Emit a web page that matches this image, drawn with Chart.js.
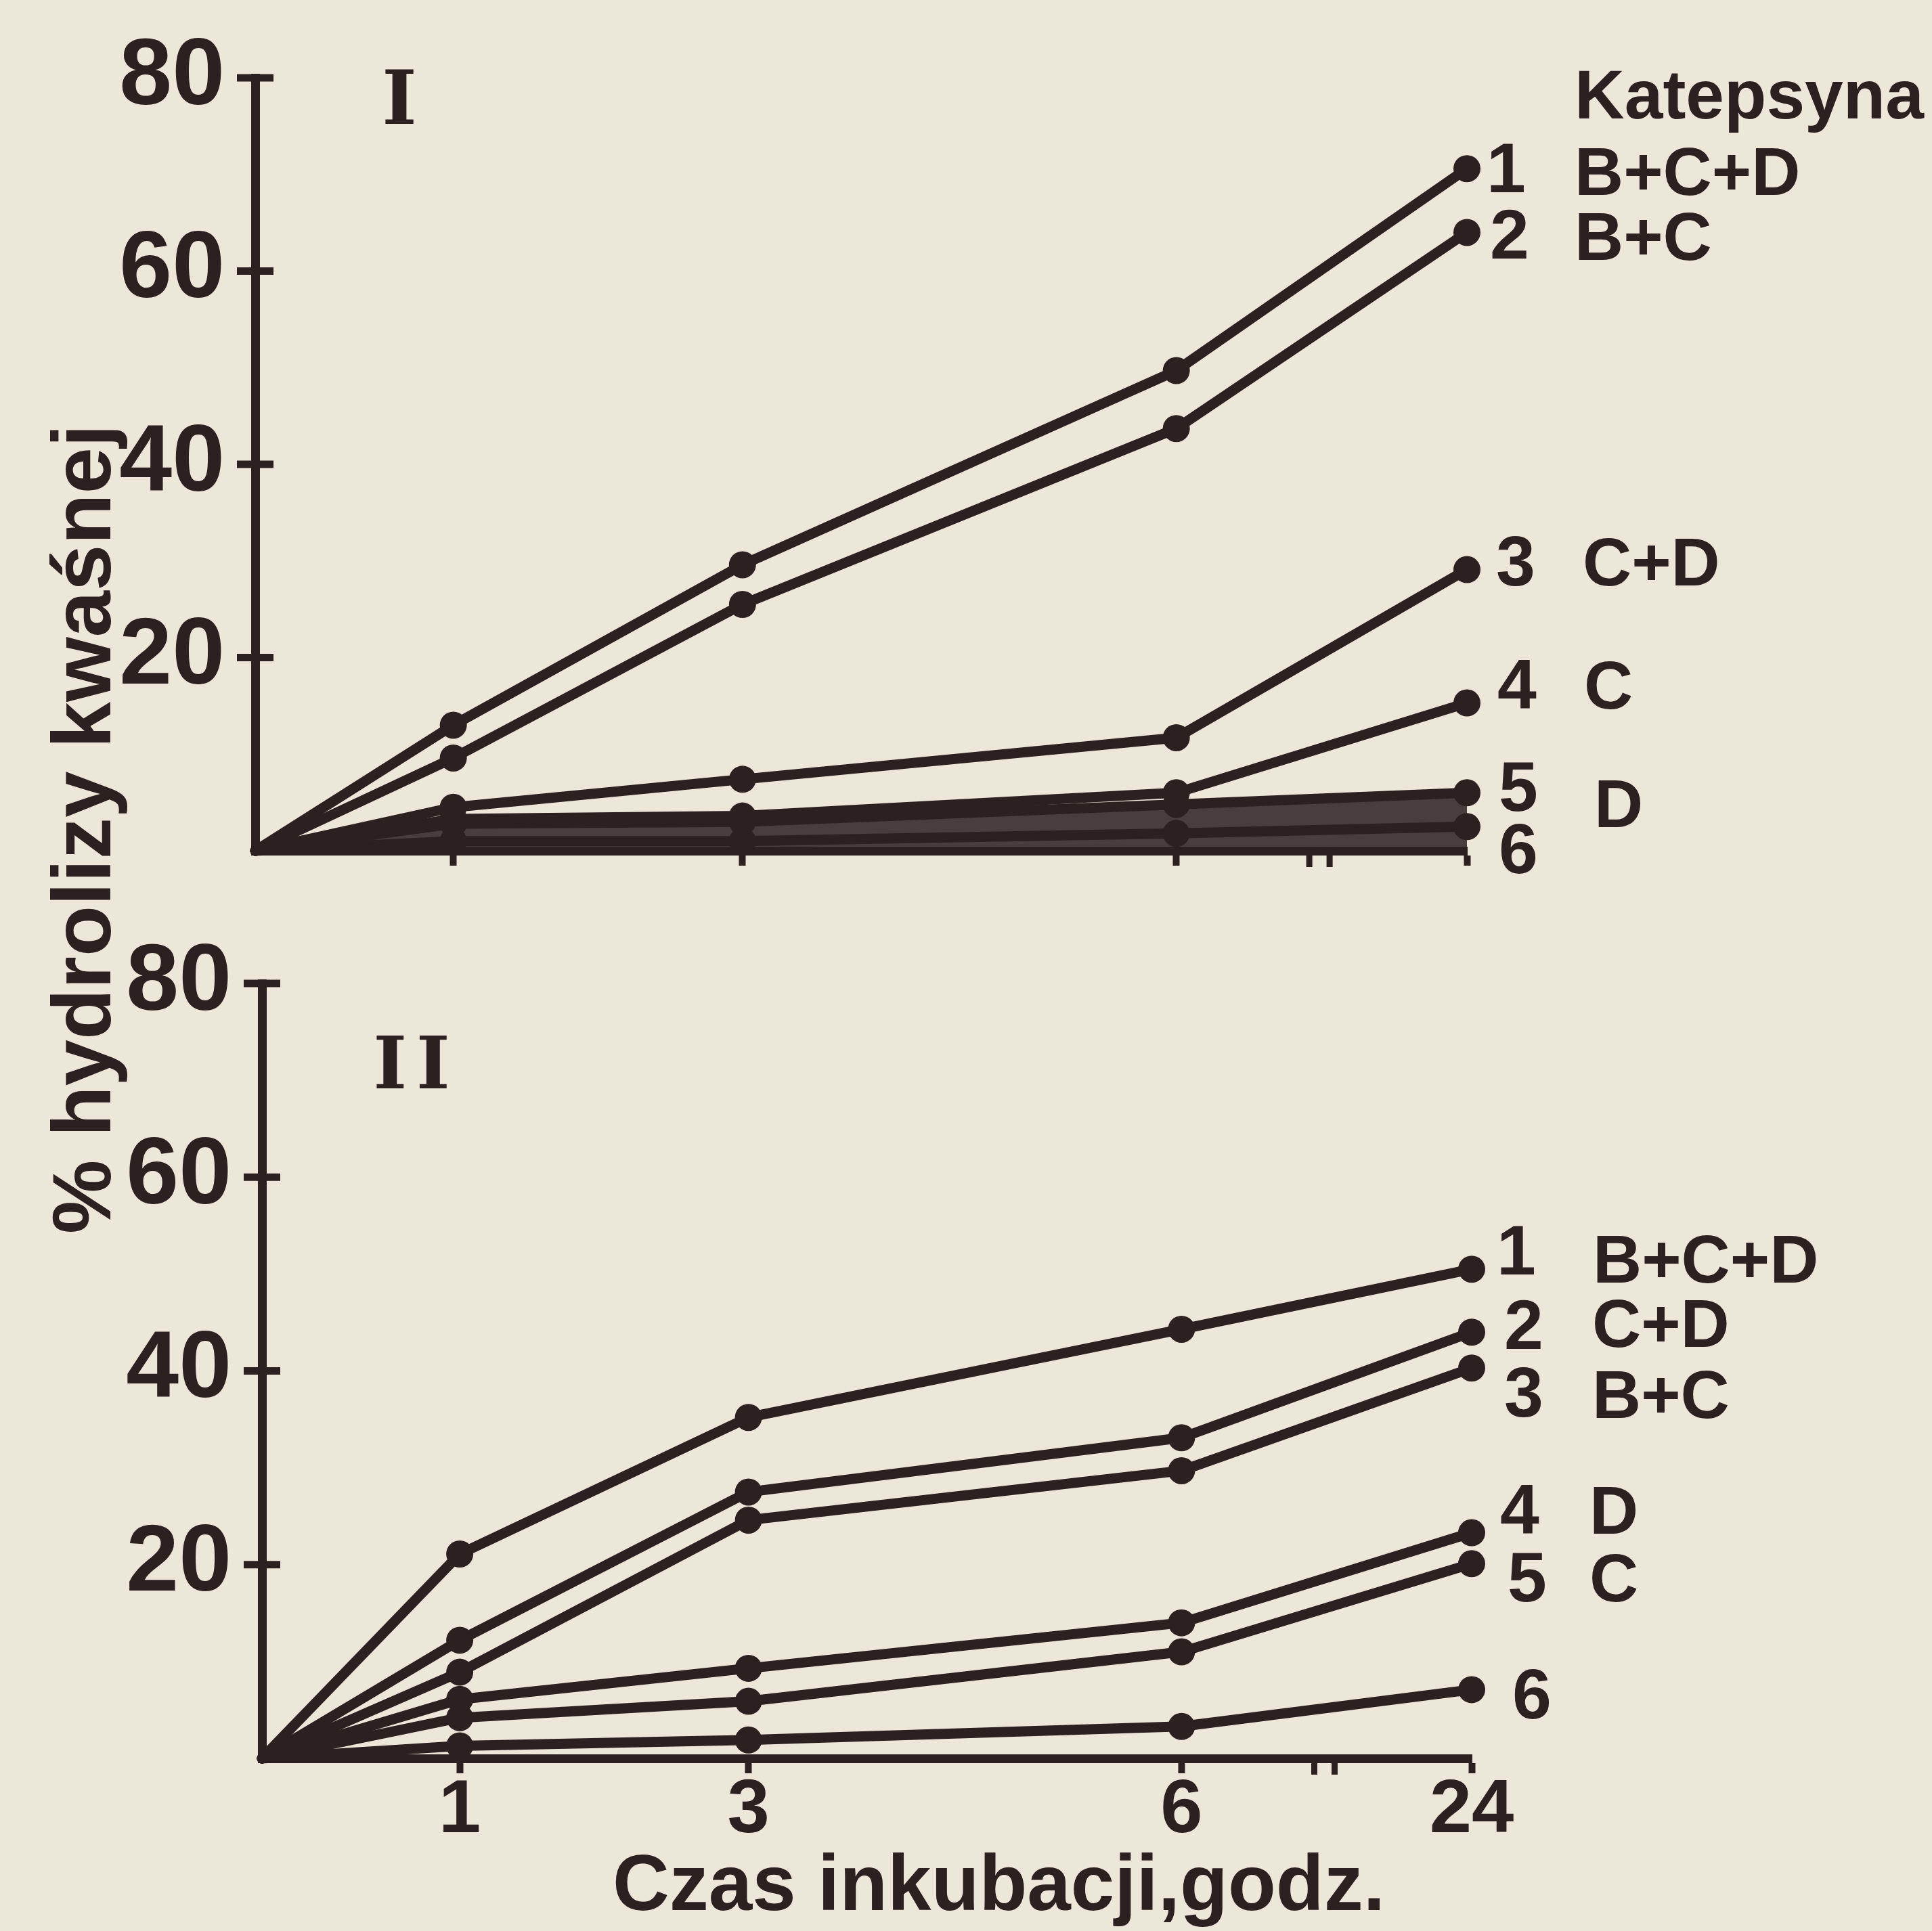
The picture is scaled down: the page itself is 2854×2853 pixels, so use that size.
<!DOCTYPE html>
<html lang="pl">
<head>
<meta charset="utf-8">
<title>Katepsyna – % hydrolizy kwaśnej</title>
<script src="https://cdn.jsdelivr.net/npm/chart.js@4.4.1/dist/chart.umd.min.js"></script>
<style>
  html, body { margin: 0; padding: 0; background: #ebe8da; }
  #wrap { position: relative; width: 2854px; height: 2853px; overflow: hidden; }
  #wrap canvas { position: absolute; left: 0; top: 0; }
</style>
</head>
<body>
<div id="wrap">
  <canvas id="panel-1" width="2854" height="2853"></canvas>
  <canvas id="panel-2" width="2854" height="2853"></canvas>
</div>
<script>
// ============ DATA ============
const HOURS = [0, 1, 3, 6, 24];
const X_TICK_HOURS = [1, 3, 6, 24];
const Y_TICKS = [0, 20, 40, 60, 80];

// Panel I
const I_NAMES = ['B+C+D', 'B+C', 'C+D', 'C', 'D', ''];
const I_1 = [0, 13, 29.6, 49.7, 70.6];
const I_2 = [0, 9.6, 25.5, 43.7, 64];
const I_3 = [0, 4.5, 7.4, 11.7, 29.1];
const I_4 = [0, 3.3, 3.6, 6, 15.3];
const I_5 = [0, 2.8, 3, 4.8, 6];
const I_6 = [0, 1, 1, 1.8, 2.5];

// Panel II
const II_NAMES = ['B+C+D', 'C+D', 'B+C', 'D', 'C', ''];
const II_1 = [0, 21.1, 35.2, 44.3, 50.5];
const II_2 = [0, 12.2, 27.5, 33.1, 44];
const II_3 = [0, 8.9, 24.6, 29.7, 40.3];
const II_4 = [0, 6.1, 9.3, 14, 23.3];
const II_5 = [0, 4.2, 5.9, 11, 20.1];
const II_6 = [0, 1.3, 1.9, 3.3, 7.1];

// ============ STYLE ============
const INK = '#2a2121';
const SANS = '"Liberation Sans", Arial, sans-serif';
const SERIF = '"DejaVu Serif", "Liberation Serif", serif';
const PAGE_H = 2853;

// the hour axis is hand drawn: 1..6 h sit a bit right of the origin,
// 24 h is pulled in behind the axis break
const BREAK_AT = 7.36;
function axisPos(h) {
  if (h === 0) return 0;
  if (h > 6) return 8.38;
  return h + 0.37;
}

function series(vals) {
  return {
    data: HOURS.map((h, k) => ({ x: axisPos(h), y: vals[k] })),
    borderColor: INK,
    borderWidth: 15,
    borderJoinStyle: 'round',
    borderCapStyle: 'round',
    backgroundColor: INK,
    pointBackgroundColor: INK,
    pointBorderWidth: 0,
    pointRadius: (c) => c.dataIndex === 0 ? 0 : 20,
    clip: false,
    tension: 0,
  };
}

// ============ EXTRA INK (cross ticks, axis break, lettering) ============
const inkMarks = {
  id: 'inkMarks',
  afterDraw(chart, args, opts) {
    const { ctx, chartArea } = chart;
    const xs = chart.scales.x, ys = chart.scales.y;
    ctx.save();
    ctx.strokeStyle = INK;
    ctx.fillStyle = INK;

    // y ticks cross the axis
    ctx.lineWidth = 11;
    ys.ticks.forEach(t => {
      if (t.value === 0) return;
      const py = ys.getPixelForValue(t.value);
      ctx.beginPath();
      ctx.moveTo(chartArea.left - 27, py);
      ctx.lineTo(chartArea.left + 27, py);
      ctx.stroke();
    });

    // axis break "||"
    const bx = xs.getPixelForValue(BREAK_AT);
    ctx.lineWidth = 9;
    [-15, 15].forEach(dx => {
      ctx.beginPath();
      ctx.moveTo(bx + dx, chartArea.bottom - 6);
      ctx.lineTo(bx + dx, chartArea.bottom + 24);
      ctx.stroke();
    });

    // lettering
    (opts.texts || []).forEach(t => {
      ctx.font = t.font;
      ctx.textAlign = t.align || 'left';
      ctx.textBaseline = 'alphabetic';
      ctx.letterSpacing = t.spacing || '0px';
      if (t.rotate) {
        ctx.save();
        ctx.translate(t.x, t.y);
        ctx.rotate(t.rotate);
        ctx.fillText(t.text, 0, 0);
        ctx.restore();
      } else {
        ctx.fillText(t.text, t.x, t.y);
      }
    });
    ctx.restore();
  }
};

const F_NUM = `bold 104px ${SANS}`;
const F_NAME = `bold 100px ${SANS}`;
function endLabels(names, pos) {
  // pos: [numX, numY, nameX, nameY] per line, page coordinates
  const out = [];
  pos.forEach((n, i) => {
    out.push({ text: String(i + 1), x: n[0], y: n[1], font: F_NUM, align: 'center' });
    if (names[i]) out.push({ text: names[i], x: n[2], y: n[3], font: F_NAME });
  });
  return out;
}

// ============ PANELS ============
function makePanel(id, datasets, p) {
  return new Chart(document.getElementById(id), {
    type: 'line',
    data: { datasets },
    plugins: [inkMarks],
    options: {
      responsive: false,
      animation: false,
      devicePixelRatio: 1,
      layout: { padding: { top: p.top, right: 2854 - p.right, left: 0, bottom: 0 } },
      plugins: {
        legend: { display: false },
        tooltip: { enabled: false },
        inkMarks: { texts: p.texts },
      },
      scales: {
        x: {
          type: 'linear',
          min: 0,
          max: axisPos(24),
          afterFit: (s) => { s.height = PAGE_H - p.bottom; },
          afterBuildTicks: (s) => { s.ticks = X_TICK_HOURS.map(h => ({ value: axisPos(h) })); },
          grid: { display: true, drawOnChartArea: false, drawTicks: true, tickLength: 22, tickWidth: 10, tickColor: INK, color: INK },
          border: { display: true, color: INK, width: 13 },
          ticks: {
            display: p.xLabels,
            autoSkip: false,
            maxRotation: 0,
            padding: 0,
            color: INK,
            font: { family: SANS, size: 112, weight: 'bold', lineHeight: 1 },
            callback: (v, i) => String(X_TICK_HOURS[i]),
          },
        },
        y: {
          min: 0,
          max: 80,
          afterFit: (s) => { s.width = p.left; },
          afterBuildTicks: (s) => { s.ticks = Y_TICKS.map(v => ({ value: v })); },
          grid: { display: true, drawOnChartArea: false, drawTicks: false },
          border: { display: true, color: INK, width: 13 },
          ticks: {
            padding: 45,
            color: INK,
            font: { family: SANS, size: 140, weight: 'bold', lineHeight: 1 },
            callback: (v) => v === 0 ? '' : String(v),
          },
        },
      },
    },
  });
}

const textsI = [
  { text: 'I', x: 590, y: 183, font: `bold 110px ${SERIF}`, align: 'center' },
  { text: 'Katepsyna', x: 2326, y: 175, font: `bold 102px ${SANS}` },
  ...endLabels(I_NAMES, [
    [2225, 284, 2326, 288],
    [2230, 382, 2326, 384],
    [2239, 865, 2338, 865],
    [2241, 1047, 2340, 1047],
    [2243, 1198, 2355, 1222],
    [2243, 1290, 0, 0],
  ]),
  { text: '% hydrolizy kwaśnej', x: 163, y: 1225, font: `bold 123px ${SANS}`, align: 'center', rotate: -Math.PI / 2 },
];

const textsII = [
  { text: 'II', x: 615, y: 1608, font: `bold 106px ${SERIF}`, align: 'center', spacing: '14px' },
  ...endLabels(II_NAMES, [
    [2240, 1883, 2353, 1895],
    [2251, 1993, 2352, 1990],
    [2251, 2093, 2352, 2095],
    [2245, 2266, 2348, 2266],
    [2256, 2366, 2348, 2366],
    [2263, 2539, 0, 0],
  ]),
  { text: 'Czas inkubacji,godz.', x: 905, y: 2822, font: `bold 116px ${SANS}` },
];

const panelI = [I_1, I_2, I_3, I_4, I_5, I_6].map(series);
// lines 5 and 6 run together with the axis into one dark band
panelI[4].fill = 'origin';
panelI[4].backgroundColor = 'rgba(42,33,33,0.85)';

makePanel('panel-1', panelI,
  { top: 115, bottom: 1257, left: 377, right: 2167, xLabels: false, texts: textsI });

makePanel('panel-2', [II_1, II_2, II_3, II_4, II_5, II_6].map(series),
  { top: 1453, bottom: 2598, left: 387, right: 2174, xLabels: true, texts: textsII });
</script>
</body>
</html>
